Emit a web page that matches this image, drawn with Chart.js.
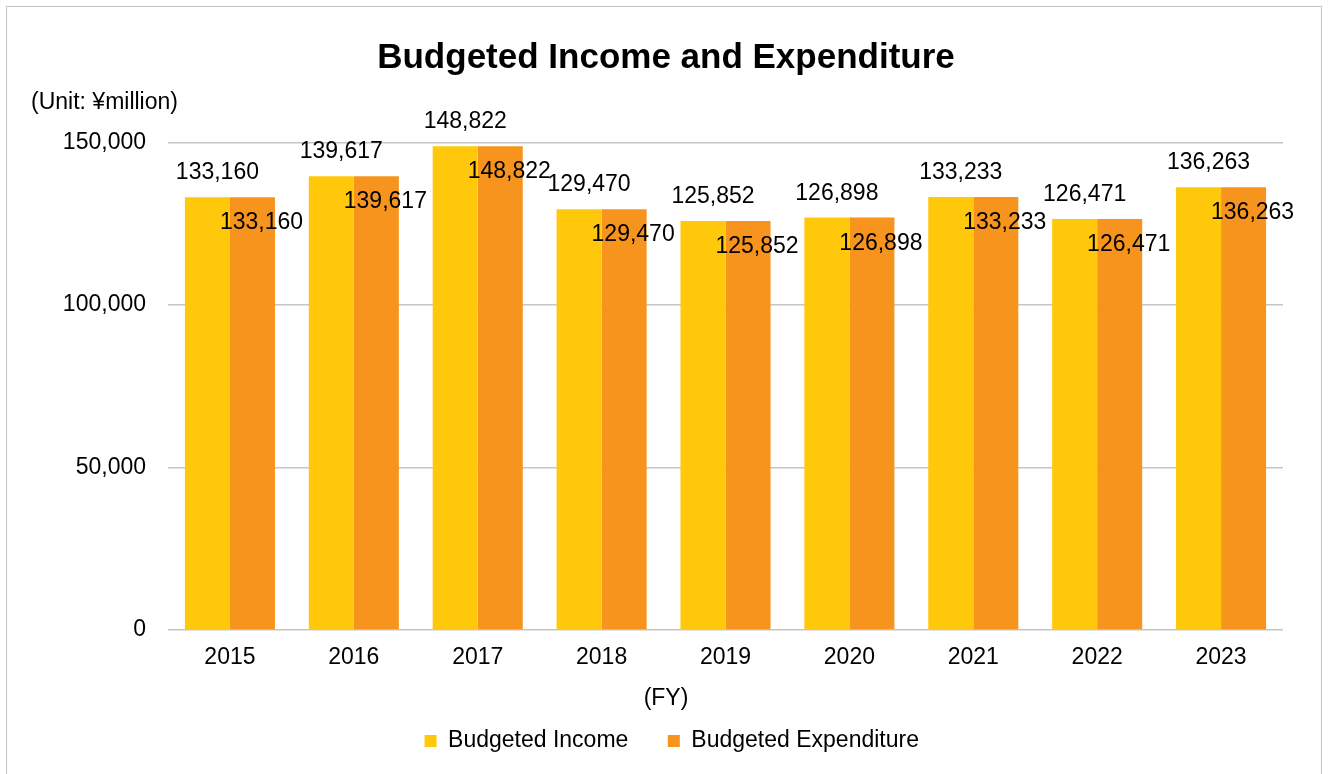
<!DOCTYPE html>
<html>
<head>
<meta charset="utf-8">
<script src="https://cdn.jsdelivr.net/npm/chart.js@4.4.1/dist/chart.umd.min.js"></script>
<style>
  html, body { margin: 0; padding: 0; background: #ffffff; }
  #wrap { position: relative; width: 1332px; height: 774px; overflow: hidden; }
  #frame {
    position: absolute; left: 6px; top: 6px; width: 1314px; height: 800px;
    border: 1.5px solid #c4c4c4; pointer-events: none;
  }
  canvas { position: absolute; left: 0; top: 0; }
</style>
</head>
<body>
<div id="wrap">
  <canvas id="chart" width="1332" height="774"></canvas>
  <div id="frame"></div>
</div>
<script>

// data
const years = ["2015", "2016", "2017", "2018", "2019", "2020", "2021", "2022", "2023"];
const income = [133160, 139617, 148822, 129470, 125852, 126898, 133233, 126471, 136263];
const expenditure = [133160, 139617, 148822, 129470, 125852, 126898, 133233, 126471, 136263];
const yTicks = [0, 50000, 100000, 150000];

const FONT = "Arial, 'Liberation Sans', sans-serif";


function fmt(v) {
    return v.toLocaleString("en-US");
}


// value labels, title, unit note and the (FY) caption
const labelPlugin = {
    id: "valueLabels",
    afterDraw(chart) {
        const ctx = chart.ctx;
        ctx.save();
        ctx.fillStyle = "#000000";
        ctx.textBaseline = "alphabetic";

        ctx.font = "23px " + FONT;
        ctx.textAlign = "center";
        chart.data.datasets.forEach(function (ds, i) {
            const meta = chart.getDatasetMeta(i);
            meta.data.forEach(function (bar, j) {
                if (i === 0) {
                    ctx.fillText(fmt(ds.data[j]), bar.x + 10, bar.y - 18);
                } else {
                    ctx.fillText(fmt(ds.data[j]), bar.x + 9, bar.y + 32);
                }
            });
        });

        ctx.fillText("(FY)", 666, 705);

        ctx.textAlign = "left";
        ctx.fillText("(Unit: \u00a5million)", 31, 109);

        ctx.font = "bold 35px " + FONT;
        ctx.textAlign = "center";
        ctx.fillText("Budgeted Income and Expenditure", 666, 68);

        ctx.restore();
    }
};


new Chart(document.getElementById("chart").getContext("2d"), {

    type: "bar",

    data: {
        labels: years,
        datasets: [
            {
                label: "Budgeted Income",
                data: income,
                backgroundColor: "#ffc80a",
                borderWidth: 0
            },
            {
                label: "Budgeted Expenditure",
                data: expenditure,
                backgroundColor: "#f7941e",
                borderWidth: 0
            }
        ]
    },

    options: {
        responsive: false,
        animation: false,
        categoryPercentage: 0.727,
        barPercentage: 1.0,
        layout: {
            padding: { left: 60.5, right: 49, top: 142.5, bottom: 11.5 }
        },
        plugins: {
            title: { display: false },
            legend: {
                position: "bottom",
                labels: {
                    color: "#000000",
                    font: { family: FONT, size: 23 },
                    boxWidth: 12,
                    boxHeight: 12,
                    padding: 39.5
                }
            },
            tooltip: { enabled: false }
        },
        scales: {
            x: {
                afterFit: function (scale) {
                    scale.height = 60;
                },
                grid: { display: false },
                border: { display: false },
                ticks: {
                    color: "#000000",
                    font: { family: FONT, size: 23 },
                    padding: 6
                }
            },
            y: {
                min: 0,
                max: 150000,
                afterFit: function (scale) {
                    scale.width = 107.5;
                },
                afterBuildTicks: function (scale) {
                    scale.ticks = yTicks.map(function (v) { return { value: v }; });
                },
                grid: {
                    color: "#c6c6c6",
                    lineWidth: 1.5,
                    drawTicks: false
                },
                border: { display: false },
                ticks: {
                    color: "#000000",
                    font: { family: FONT, size: 23 },
                    padding: 22,
                    callback: function (v) { return fmt(v); }
                }
            }
        }
    },

    plugins: [labelPlugin]

});

</script>
</body>
</html>
